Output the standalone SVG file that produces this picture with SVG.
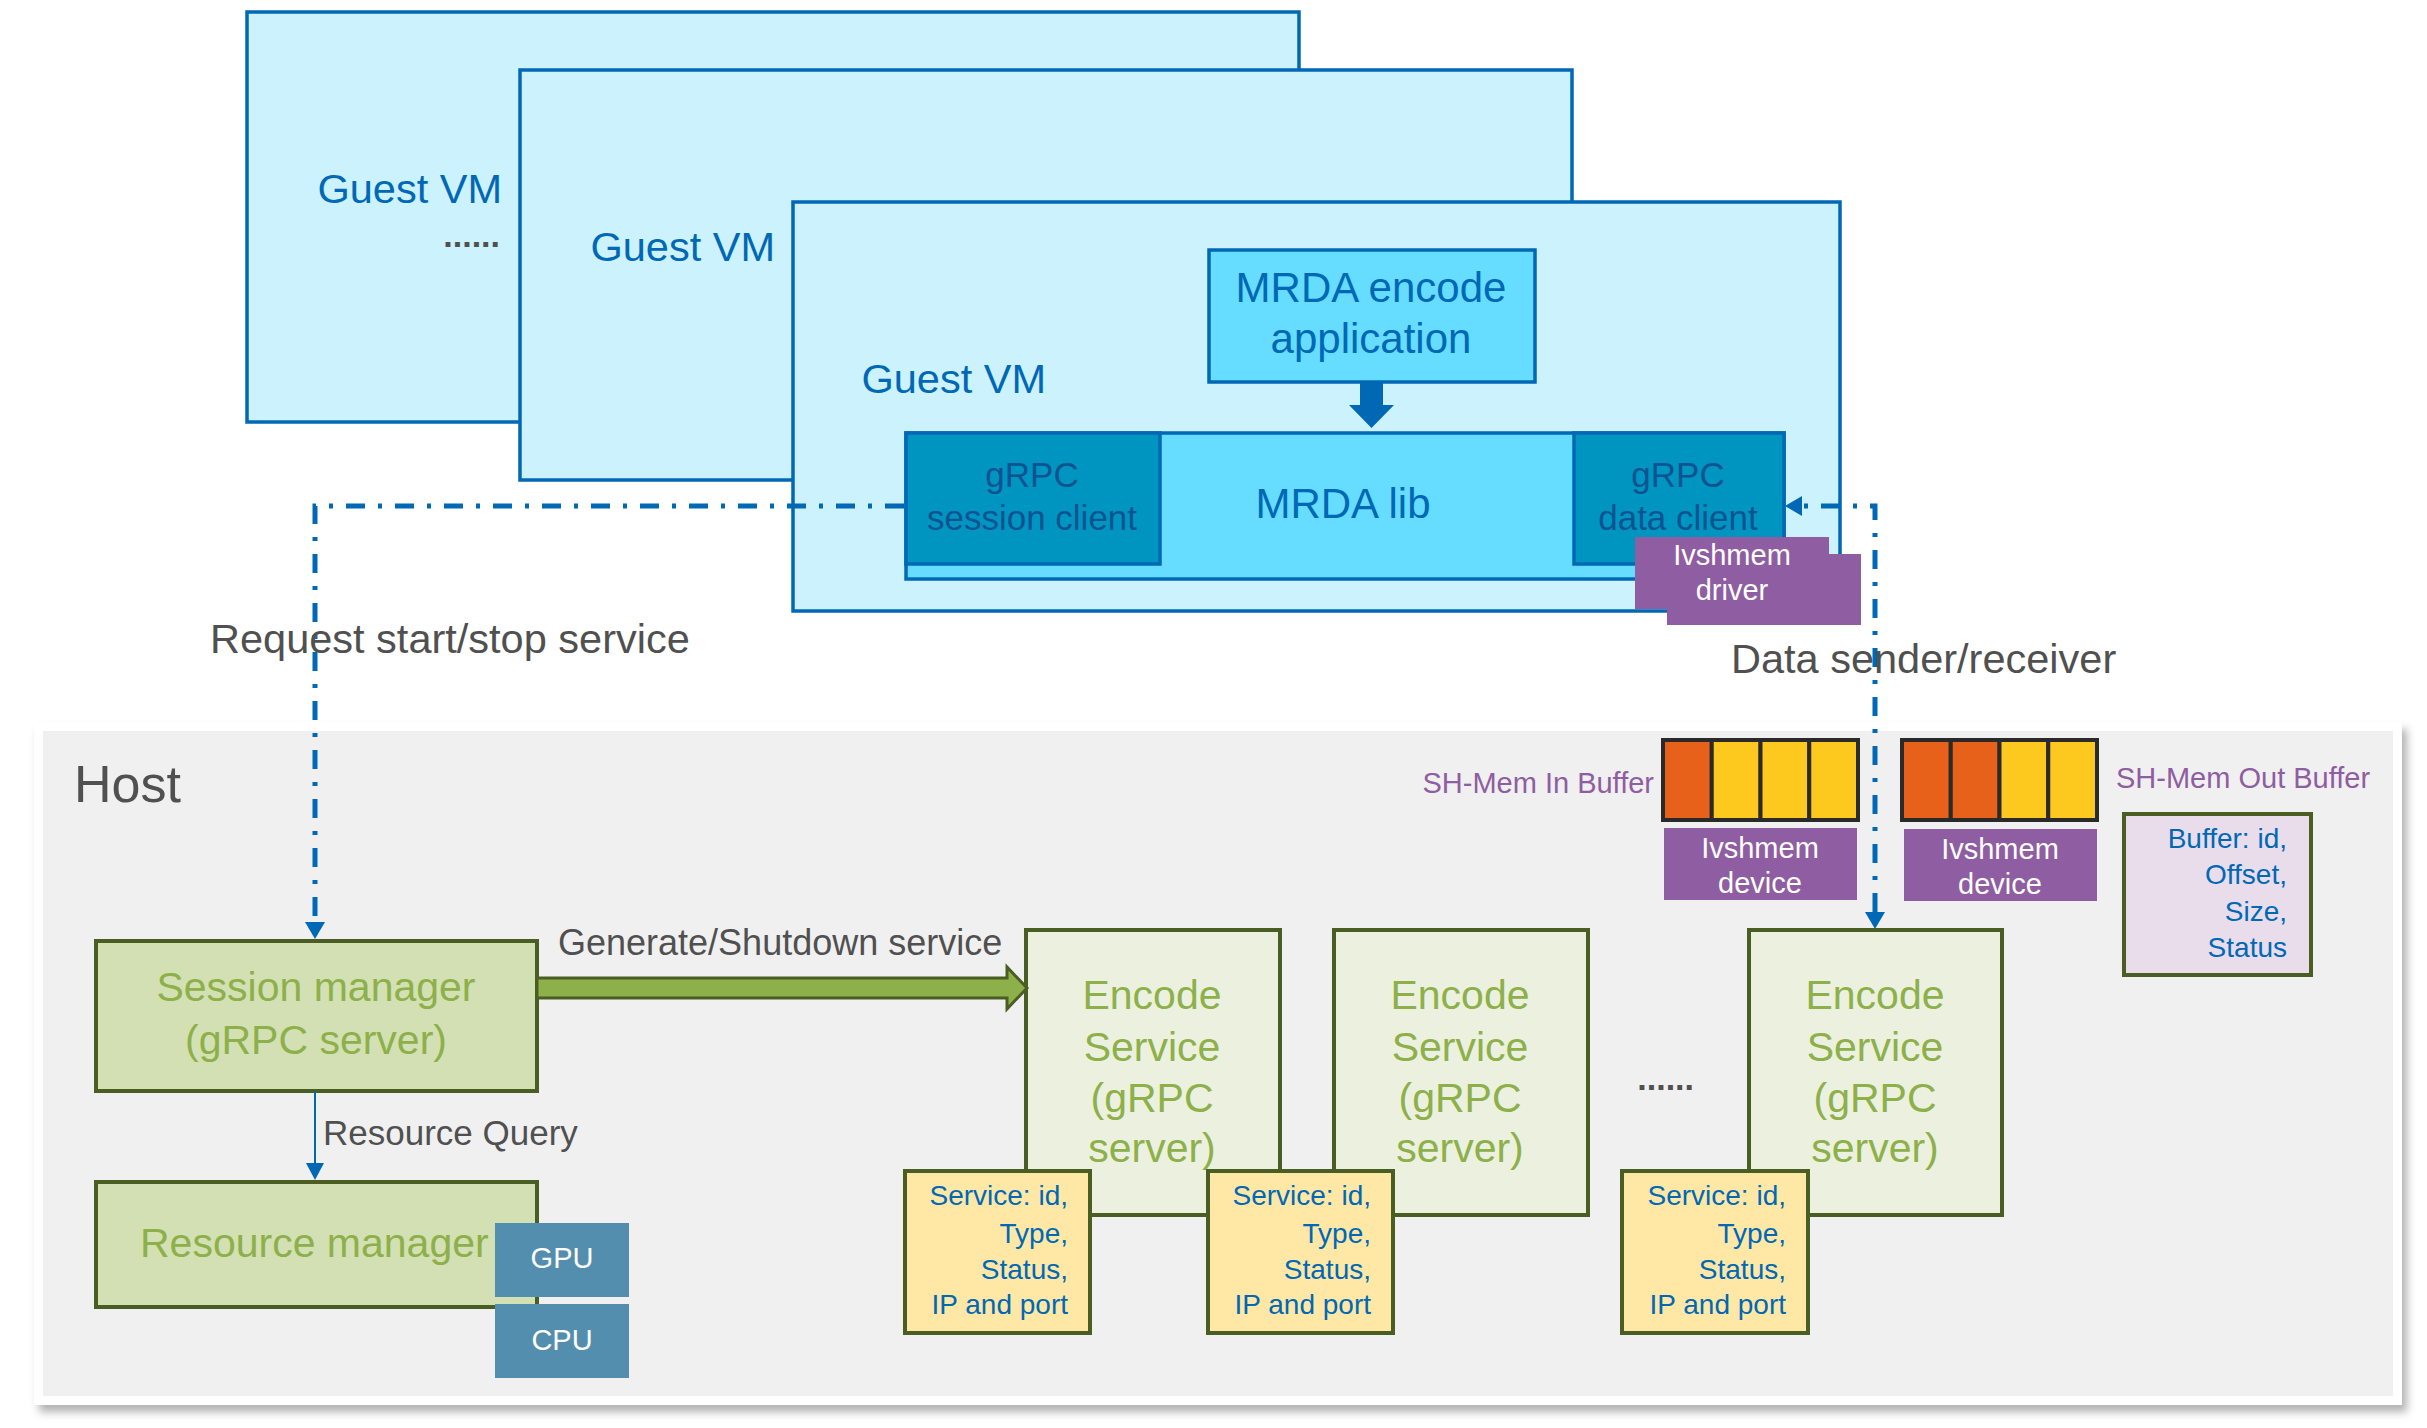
<svg xmlns="http://www.w3.org/2000/svg" width="2427" height="1428" viewBox="0 0 2427 1428">
<style>
text{font-family:"Liberation Sans",Arial,sans-serif}
.vm{fill:#CCF2FD;stroke:#0068B5;stroke-width:3.5}
.bright{fill:#66DDFF;stroke:#0068B5;stroke-width:3.5}
.client{fill:#0095C0;stroke:#0068B5;stroke-width:3.5}
.blue{fill:#0068B5}
.dblue{fill:#0D5391}
.gray{fill:#505050}
.purple{fill:#8F5DA2}
.ptxt{fill:#8F5DA2}
.white{fill:#FFFFFF}
.green{fill:#8DB04A}
.sm{fill:#D2E0B3;stroke:#4A5E23;stroke-width:4}
.enc{fill:#EBF1DE;stroke:#4A5E23;stroke-width:4}
.info{fill:#FFE7A6;stroke:#4A5E23;stroke-width:4}
.binfo{fill:#E9DDEC;stroke:#4A5E23;stroke-width:4}
.hw{fill:#548EAE}
.or{fill:#E8611A;stroke:#2A2A2A;stroke-width:4}
.ye{fill:#FDC91E;stroke:#2A2A2A;stroke-width:4}
.dd{fill:none;stroke:#0068B5;stroke-width:5;stroke-dasharray:19 13 4 13}
.c{text-anchor:middle}
.e{text-anchor:end}
</style>
<defs>
<filter id="sh" x="-5%" y="-5%" width="110%" height="115%">
<feDropShadow dx="5" dy="7" stdDeviation="4" flood-color="#000" flood-opacity="0.3"/>
</filter>
<marker id="ah" viewBox="0 0 17 20" refX="0" refY="10" markerWidth="17" markerHeight="20" markerUnits="userSpaceOnUse" orient="auto-start-reverse">
<path d="M0,0 L17,10 L0,20 Z" fill="#0068B5"/>
</marker>
<marker id="ahs" viewBox="0 0 17 18" refX="0" refY="9" markerWidth="17" markerHeight="18" markerUnits="userSpaceOnUse" orient="auto">
<path d="M0,0 L17,9 L0,18 Z" fill="#0068B5"/>
</marker>
</defs>

<g id="host-panel">
<rect x="34" y="722" width="2368" height="683" fill="#FFFFFF" filter="url(#sh)"/>
<rect x="43" y="731" width="2350" height="665" fill="#F0F0F0"/>
<text x="74" y="802" font-size="52" class="gray">Host</text>
</g>

<g id="guest-vm-1">
<rect x="247" y="12" width="1052" height="410" class="vm"/>
<text x="502" y="203" font-size="41.5" class="blue e">Guest VM</text>
<text x="500" y="247" font-size="34" font-weight="bold" class="gray e">......</text>
</g>
<g id="guest-vm-2">
<rect x="520" y="70" width="1052" height="410" class="vm"/>
<text x="775" y="261" font-size="41.5" class="blue e">Guest VM</text>
</g>
<g id="guest-vm-3">
<rect x="793" y="202" width="1047" height="409" class="vm"/>
<text x="1046" y="393" font-size="41.5" class="blue e">Guest VM</text>
</g>

<g id="mrda-app">
<rect x="1209" y="250" width="326" height="132" class="bright"/>
<text x="1371" y="302" font-size="42" class="blue c">MRDA encode</text>
<text x="1371" y="353" font-size="42" class="blue c">application</text>
</g>

<g id="mrda-lib">
<rect x="906" y="433" width="878" height="146" class="bright"/>
<text x="1343" y="518" font-size="42" class="blue c">MRDA lib</text>
</g>
<g id="grpc-session-client">
<rect x="906" y="433" width="254" height="131" class="client"/>
<text x="1032" y="487" font-size="35" class="dblue c">gRPC</text>
<text x="1032" y="530" font-size="35" class="dblue c">session client</text>
</g>
<g id="grpc-data-client">
<rect x="1574" y="433" width="210" height="131" class="client"/>
<text x="1678" y="487" font-size="35" class="dblue c">gRPC</text>
<text x="1678" y="530" font-size="35" class="dblue c">data client</text>
</g>
<g id="ivshmem-driver">
<rect x="1635" y="537" width="194" height="72" class="purple"/>
<rect x="1667" y="554" width="194" height="71" class="purple"/>
<text x="1732" y="565" font-size="29" class="white c">Ivshmem</text>
<text x="1732" y="600" font-size="29" class="white c">driver</text>
</g>

<g id="sh-mem-in-buffer">
<text x="1654" y="793" font-size="29" class="ptxt e">SH-Mem In Buffer</text>
<rect x="1663" y="740" width="48.75" height="80" class="or"/>
<rect x="1711.75" y="740" width="48.75" height="80" class="ye"/>
<rect x="1760.5" y="740" width="48.75" height="80" class="ye"/>
<rect x="1809.25" y="740" width="48.75" height="80" class="ye"/>
</g>
<g id="sh-mem-out-buffer">
<rect x="1902" y="740" width="48.75" height="80" class="or"/>
<rect x="1950.75" y="740" width="48.75" height="80" class="or"/>
<rect x="1999.5" y="740" width="48.75" height="80" class="ye"/>
<rect x="2048.25" y="740" width="48.75" height="80" class="ye"/>
<text x="2116" y="788" font-size="29" class="ptxt">SH-Mem Out Buffer</text>
</g>
<g id="ivshmem-device-1">
<rect x="1664" y="828" width="193" height="72" class="purple"/>
<text x="1760" y="858" font-size="29" class="white c">Ivshmem</text>
<text x="1760" y="893" font-size="29" class="white c">device</text>
</g>
<g id="ivshmem-device-2">
<rect x="1904" y="829" width="193" height="72" class="purple"/>
<text x="2000" y="859" font-size="29" class="white c">Ivshmem</text>
<text x="2000" y="894" font-size="29" class="white c">device</text>
</g>
<g id="buffer-info">
<rect x="2124" y="814" width="187" height="161" class="binfo"/>
<text x="2287" y="848" font-size="28" class="blue e">Buffer: id,</text>
<text x="2287" y="884" font-size="28" class="blue e">Offset,</text>
<text x="2287" y="921" font-size="28" class="blue e">Size,</text>
<text x="2287" y="957" font-size="28" class="blue e">Status</text>
</g>

<g id="session-manager">
<rect x="96" y="941" width="441" height="150" class="sm"/>
<text x="316" y="1001" font-size="41" class="green c">Session manager</text>
<text x="316" y="1054" font-size="41" class="green c">(gRPC server)</text>
</g>
<g id="resource-manager">
<rect x="96" y="1182" width="441" height="125" class="sm"/>
<text x="140" y="1257" font-size="41" class="green">Resource manager</text>
</g>
<g id="gpu">
<rect x="495" y="1223" width="134" height="74" class="hw"/>
<text x="562" y="1268" font-size="29" class="white c">GPU</text>
</g>
<g id="cpu">
<rect x="495" y="1304" width="134" height="74" class="hw"/>
<text x="562" y="1350" font-size="29" class="white c">CPU</text>
</g>

<g id="encode-service-1">
<rect x="1026" y="930" width="254" height="285" class="enc"/>
<text x="1152" y="1009" font-size="41" class="green c">Encode</text>
<text x="1152" y="1061" font-size="41" class="green c">Service</text>
<text x="1152" y="1112" font-size="41" class="green c">(gRPC</text>
<text x="1152" y="1162" font-size="41" class="green c">server)</text>
</g>
<g id="service-info-1">
<rect x="905" y="1171" width="185" height="162" class="info"/>
<text x="1068" y="1205" font-size="28" class="blue e">Service: id,</text>
<text x="1068" y="1243" font-size="28" class="blue e">Type,</text>
<text x="1068" y="1279" font-size="28" class="blue e">Status,</text>
<text x="1068" y="1314" font-size="28" class="blue e">IP and port</text>
</g>
<g id="encode-service-2">
<rect x="1334" y="930" width="254" height="285" class="enc"/>
<text x="1460" y="1009" font-size="41" class="green c">Encode</text>
<text x="1460" y="1061" font-size="41" class="green c">Service</text>
<text x="1460" y="1112" font-size="41" class="green c">(gRPC</text>
<text x="1460" y="1162" font-size="41" class="green c">server)</text>
</g>
<g id="service-info-2">
<rect x="1208" y="1171" width="185" height="162" class="info"/>
<text x="1371" y="1205" font-size="28" class="blue e">Service: id,</text>
<text x="1371" y="1243" font-size="28" class="blue e">Type,</text>
<text x="1371" y="1279" font-size="28" class="blue e">Status,</text>
<text x="1371" y="1314" font-size="28" class="blue e">IP and port</text>
</g>
<g id="ellipsis">
<text x="1694" y="1090" font-size="34" font-weight="bold" class="gray e">......</text>
</g>
<g id="encode-service-3">
<rect x="1749" y="930" width="253" height="285" class="enc"/>
<text x="1875" y="1009" font-size="41" class="green c">Encode</text>
<text x="1875" y="1061" font-size="41" class="green c">Service</text>
<text x="1875" y="1112" font-size="41" class="green c">(gRPC</text>
<text x="1875" y="1162" font-size="41" class="green c">server)</text>
</g>
<g id="service-info-3">
<rect x="1622" y="1171" width="186" height="162" class="info"/>
<text x="1786" y="1205" font-size="28" class="blue e">Service: id,</text>
<text x="1786" y="1243" font-size="28" class="blue e">Type,</text>
<text x="1786" y="1279" font-size="28" class="blue e">Status,</text>
<text x="1786" y="1314" font-size="28" class="blue e">IP and port</text>
</g>

<g id="connectors">
<polygon points="1360,382 1383,382 1383,405 1394,405 1371.5,428 1349,405 1360,405" fill="#0068B5"/>
<path d="M904,506 H315 V922" class="dd" marker-end="url(#ah)"/>
<text x="210" y="653" font-size="41.5" class="gray">Request start/stop service</text>
<path d="M1875,912 V506 H1802" class="dd" marker-start="url(#ah)" marker-end="url(#ah)"/>
<text x="1731" y="673" font-size="41.5" class="gray">Data sender/receiver</text>
<polygon points="537,978 1007,978 1007,967 1027,988 1007,1009 1007,998 537,998" fill="#8DB04A" stroke="#4A5E23" stroke-width="3"/>
<text x="558" y="955" font-size="36" class="gray">Generate/Shutdown service</text>
<path d="M315,1091 V1163" fill="none" stroke="#0068B5" stroke-width="2" marker-end="url(#ahs)"/>
<text x="323" y="1145" font-size="35" class="gray">Resource Query</text>
</g>
</svg>
